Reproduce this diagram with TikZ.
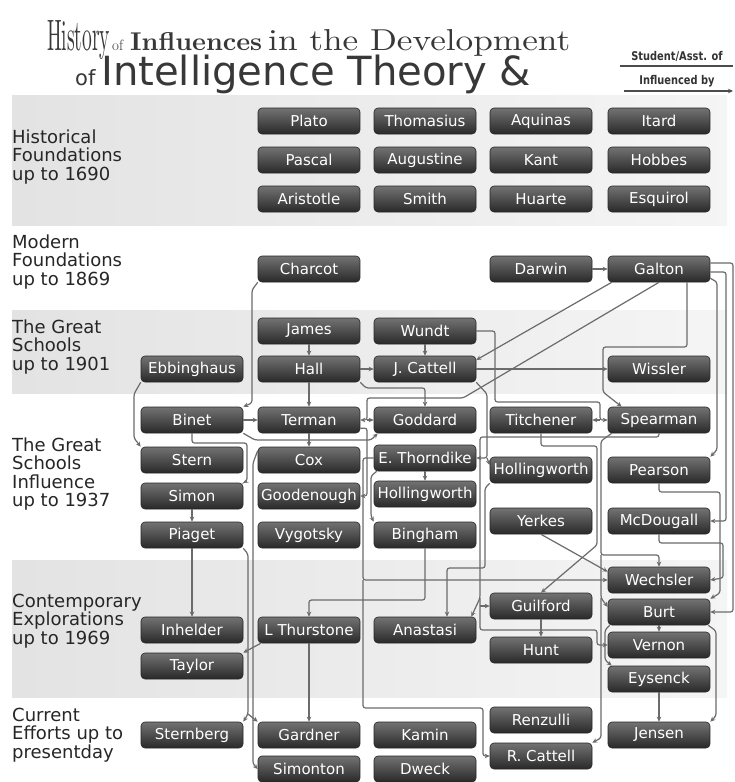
\documentclass[tikz,border=0pt]{standalone}
\usepackage{fontspec}
\usepackage{graphicx}
\usetikzlibrary{arrows.meta,calc}
\newfontfamily\boxfont{DejaVu Sans}
\newfontfamily\sidefont{DejaVu Sans}
\newfontfamily\titlesans{DejaVu Sans}
\newfontfamily\legfont[FakeStretch=0.82]{DejaVu Sans}
\begin{document}
\begin{tikzpicture}[x=1pt,y=-1pt,
  pbox/.style={rectangle, rounded corners=4pt, minimum width=102pt, minimum height=26pt,
    inner sep=0pt, top color=black!55, bottom color=black!84, draw=black!85, line width=0.6pt,
    text=white, font=\boxfont\fontsize{15}{16}\selectfont},
  con/.style={draw=black!58, line width=1.2pt, rounded corners=2.5pt,
    -{Stealth[length=5pt,width=4.5pt]}},
  side/.style={anchor=west, inner sep=0pt, align=left, text=black!85,
    font=\sidefont\fontsize{18}{18.5}\selectfont},
  ttl/.style={anchor=base west, inner sep=0pt, text=black!78},
  leg/.style={inner sep=0pt, text=black!80, font=\legfont\bfseries\fontsize{12}{12}\selectfont}]
\useasboundingbox (0,0) rectangle (735,782);
\fill[white] (0,0) rectangle (735,782);
% bands
\shade[left color=black!11, right color=black!4] (12,95) rectangle (727,225);
\shade[left color=black!11, right color=black!4] (12,310) rectangle (727,393);
\shade[left color=black!11, right color=black!4] (12,560) rectangle (727,697);
% title
\node[ttl] (t1) at (47,50) {\resizebox{63pt}{30pt}{History}};
\node[ttl] (t2) at (112,50) {\fontsize{15}{15}\selectfont of};
\node[ttl] (t3) at (130,50) {\resizebox{132pt}{18pt}{\bfseries Influences}};
\node[ttl] (t4) at (268,50) {\resizebox{302pt}{21pt}{in the Development}};
\node[ttl] (t5) at (75,85) {\titlesans\fontsize{21}{21}\selectfont of};
\node[ttl] (t6) at (101,85) {\resizebox{430pt}{!}{\titlesans Intelligence Theory \&}};
% legend
\node[leg] (l1) at (677,56) {Student/Asst. of};
\node[leg] (l2) at (677,81) {Influenced by};
\coordinate (l1a) at (620,66); \coordinate (l1b) at (733,66);
\coordinate (l2a) at (624,91); \coordinate (l2b) at (733,91);
\draw[black!70, line width=1.1pt] (l1a) -- (l1b);
\draw[black!70, line width=1.1pt, -{Stealth[length=5pt,width=4.5pt]}] (l2a) -- (l2b);
% side labels
\node[side] (s1) at (12,157) {Historical\\Foundations\\up to 1690};
\node[side] (s2) at (12,262) {Modern\\Foundations\\up to 1869};
\node[side] (s3) at (12,347) {The Great\\Schools\\up to 1901};
\node[side] (s4) at (12,474) {The Great\\Schools\\Influence\\up to 1937};
\node[side] (s5) at (12,621) {Contemporary\\Explorations\\up to 1969};
\node[side] (s6) at (12,735) {Current\\Efforts up to\\presentday};
% nodes
\node[pbox] (plato) at (309,121) {Plato};
\node[pbox] (thomasius) at (425,121) {Thomasius};
\node[pbox] (aquinas) at (541,121) {Aquinas};
\node[pbox] (itard) at (659,121) {Itard};
\node[pbox] (pascal) at (309,160) {Pascal};
\node[pbox] (augustine) at (425,160) {Augustine};
\node[pbox] (kant) at (541,160) {Kant};
\node[pbox] (hobbes) at (659,160) {Hobbes};
\node[pbox] (aristotle) at (309,199) {Aristotle};
\node[pbox] (smith) at (425,199) {Smith};
\node[pbox] (huarte) at (541,199) {Huarte};
\node[pbox] (esquirol) at (659,199) {Esquirol};
\node[pbox] (charcot) at (309,269) {Charcot};
\node[pbox] (darwin) at (541,269) {Darwin};
\node[pbox] (galton) at (659,269) {Galton};
\node[pbox] (james) at (309,331) {James};
\node[pbox] (wundt) at (425,331) {Wundt};
\node[pbox] (ebbinghaus) at (192,369) {Ebbinghaus};
\node[pbox] (hall) at (309,369) {Hall};
\node[pbox] (jcattell) at (425,369) {J. Cattell};
\node[pbox] (wissler) at (659,369) {Wissler};
\node[pbox] (binet) at (192,420) {Binet};
\node[pbox] (terman) at (309,420) {Terman};
\node[pbox] (goddard) at (425,420) {Goddard};
\node[pbox] (titchener) at (541,420) {Titchener};
\node[pbox] (spearman) at (659,420) {Spearman};
\node[pbox] (stern) at (192,460) {Stern};
\node[pbox] (cox) at (309,460) {Cox};
\node[pbox] (thorndike) at (425,458) {E. Thorndike};
\node[pbox] (hollD) at (541,470) {Hollingworth};
\node[pbox] (pearson) at (659,470) {Pearson};
\node[pbox] (simon) at (192,496) {Simon};
\node[pbox] (goodenough) at (309,496) {Goodenough};
\node[pbox] (hollC) at (425,494) {Hollingworth};
\node[pbox] (piaget) at (192,535) {Piaget};
\node[pbox] (vygotsky) at (309,535) {Vygotsky};
\node[pbox] (bingham) at (425,535) {Bingham};
\node[pbox] (yerkes) at (541,521) {Yerkes};
\node[pbox] (mcdougall) at (659,521) {McDougall};
\node[pbox] (wechsler) at (659,580) {Wechsler};
\node[pbox] (guilford) at (541,606) {Guilford};
\node[pbox] (burt) at (659,612) {Burt};
\node[pbox] (inhelder) at (192,630) {Inhelder};
\node[pbox] (thurstone) at (309,630) {L Thurstone};
\node[pbox] (anastasi) at (425,630) {Anastasi};
\node[pbox] (vernon) at (659,645) {Vernon};
\node[pbox] (hunt) at (541,650) {Hunt};
\node[pbox] (taylor) at (192,666) {Taylor};
\node[pbox] (eysenck) at (659,679) {Eysenck};
\node[pbox] (renzulli) at (541,720) {Renzulli};
\node[pbox] (sternberg) at (192,735) {Sternberg};
\node[pbox] (gardner) at (309,735) {Gardner};
\node[pbox] (kamin) at (425,735) {Kamin};
\node[pbox] (jensen) at (659,735) {Jensen};
\node[pbox] (rcattell) at (541,756) {R. Cattell};
\node[pbox] (simonton) at (309,769) {Simonton};
\node[pbox] (dweck) at (425,769) {Dweck};
% connectors
\draw[con] (charcot.south west) -- (252,290) -- (252,403) -- (binet.north east);
\draw[con] (darwin) -- (galton);
\draw[con] ($(galton.south west)+(4,0)$) -- (jcattell.10);
\coordinate (gt) at (367,420);
\draw[con] (galton.south) -- (463,398) -- (367,398) -- (gt) -- (terman.east);
\draw[con] (gt) -- (goddard.west);
\draw[con] (wundt) -- (jcattell);
\draw[con] (james) -- (hall);
\draw[con] (hall) -- (jcattell);
\draw[con] (hall) -- (terman);
\draw[con] (hall.south east) -- (366,388) -- (425,388) -- (goddard.north);
\draw[con] (binet) -- (terman);
\draw[con] (terman) -- (cox);
\draw[con] (binet.south east) -- (255,440) -- (371,440) -- ($(goddard.south west)+(4,0)$);
\draw[con] (binet.south) -- (192,443) -- (247,443) -- (247,481) -- (simon.north east);
\draw[con] ($(cox.north west)+(0,4)$) -- (253,463) -- (253,764) -- (simonton.west);
\coordinate (pg) at (248,714);
\draw[con] (piaget.south east) -- (248,554) -- (pg) -- (sternberg.north east);
\draw[con] (pg) -- (gardner.north west);
\draw[con] (ebbinghaus.south west) -- (134,394) -- (134,438) -- (stern.north west);
\draw[con] (simon) -- (piaget);
\draw[con] (piaget) -- (inhelder);
\draw[con] ($(thurstone.south west)+(3,0)$) -- (taylor.north east);
\draw[con] (thurstone) -- (gardner);
\draw[con] (bingham.south) -- (425,600) -- (309,600) -- (thurstone.north);
\draw[con] ($(terman.south east)+(0,-5)$) -- (367,428) -- (367,496) -- (goodenough.east);
\coordinate (th) at (363,580);
\draw[con] (thorndike.west) -- (363,458) -- (th) -- (wechsler.west);
\draw[con] (th) -- (363,708) -- (483,708) -- (483,756) -- (rcattell.west);
\draw[con] ($(thorndike.south west)+(3,0)$) -- (371,476) -- (371,516) -- (bingham.north west);
\draw[con] (thorndike) -- (hollC);
\coordinate (jc) at (487,458);
\draw[con] (jcattell.south east) -- (487,394) -- (jc) -- (thorndike.east);
\draw[con] (jc) -- ($(hollD.west)+(0,-5)$);
\draw[con] (hollD.south west) -- (485,488) -- (485,568) -- (447,568) -- ($(anastasi.north)+(22,0)$);
\coordinate (sp1) at (480,598);
\draw[con] (spearman.south) -- (659,437) -- (480,437) -- (sp1) -- ($(anastasi.north east)+(-5,0)$);
\draw[con] (480,606) -- (guilford.west);
\draw[con] (sp1) -- (480,630) -- (597,630) -- (597,645) -- (vernon.west);
\coordinate (wu) at (600,420);
\draw[con] (wundt.east) -- (495,331) -- (495,402) -- (600,402) -- (wu) -- (spearman.west);
\draw[con] (wu) -- (titchener.east);
\draw[con] ($(galton.south)+(28,0)$) -- (687,347) -- (603,347) -- (603,392) -- ($(spearman.north west)+(14,0)$);
\draw[con] (jcattell) -- (wissler);
\draw[con] ($(galton.south east)+(0,-4)$) -- (717,282) -- (717,450) -- (pearson.north east);
\draw[con] ($(galton.east)+(0,3)$) -- (726,272) -- (726,521) -- (mcdougall.east);
\draw[con] ($(galton.east)+(0,-6)$) -- (733,263) -- (733,612) -- (burt.east);
\draw[con] (pearson.south) -- (659,492) -- (720,492) -- (720,593) -- (burt.north east);
\draw[con] (mcdougall.south) -- (659,543) -- (723,543) -- (723,578) -- (wechsler.east);
\draw[con] (titchener.south) -- (541,446) -- (597,446) -- (597,545) -- (guilford.north);
\coordinate (sw) at (601,555);
\draw[con] ($(spearman.south west)+(4,0)$) -- (601,441) -- (sw) -- (659,555) -- (wechsler.north);
\coordinate (sb) at (601,598);
\draw[con] (sw) -- (sb) -- ($(burt.west)+(0,-5)$);
\draw[con] (sb) -- (601,738) -- (rcattell.north east);
\draw[con] (yerkes.south) -- ($(wechsler.north west)+(0,5)$);
\draw[con] (guilford) -- (hunt);
\draw[con] (burt) -- (vernon);
\draw[con] (eysenck) -- (jensen);
\draw[con] ($(burt.south west)+(2,0)$) -- (605,630) -- (605,660) -- ($(eysenck.north west)+(4,0)$);
\draw[con] ($(burt.south east)+(-2,0)$) -- (716,631) -- (716,716) -- (jensen.north east);
\end{tikzpicture}
\end{document}
